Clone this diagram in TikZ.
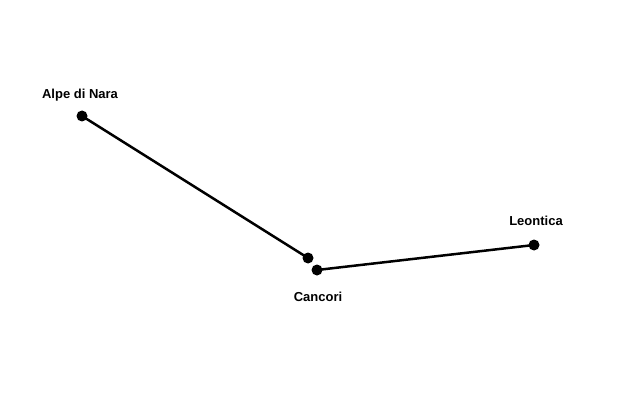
\documentclass[tikz,border=0pt]{standalone}
\usepackage{fontspec}
\setmainfont{Liberation Sans}
\usetikzlibrary{positioning}
\begin{document}
\begin{tikzpicture}[x=1pt,y=-1pt,ele/.style={fill=black, circle, minimum size=11pt, inner sep=0pt},lbl/.style={font=\fontsize{13}{15}\selectfont\bfseries}]
  \useasboundingbox (0,0) rectangle (630,420);
  \node[ele] (alpe) at (82,116) {};
  \node[ele] (canc1) at (308,258) {};
  \node[ele] (canc2) at (317,270) {};
  \node[ele] (leon) at (534,245) {};

  \node[lbl] (alpelbl) at (80,95) {Alpe di Nara};
  \node[lbl] (leonlbl) at (536,221) {Leontica};
  \node[lbl] (canclbl) at (318,297) {Cancori};

  \draw[line width=2.5pt] (alpe.center) -- (canc1.center);
  \draw[line width=2.5pt] (canc2.center) -- (leon.center);
\end{tikzpicture}
\end{document}
